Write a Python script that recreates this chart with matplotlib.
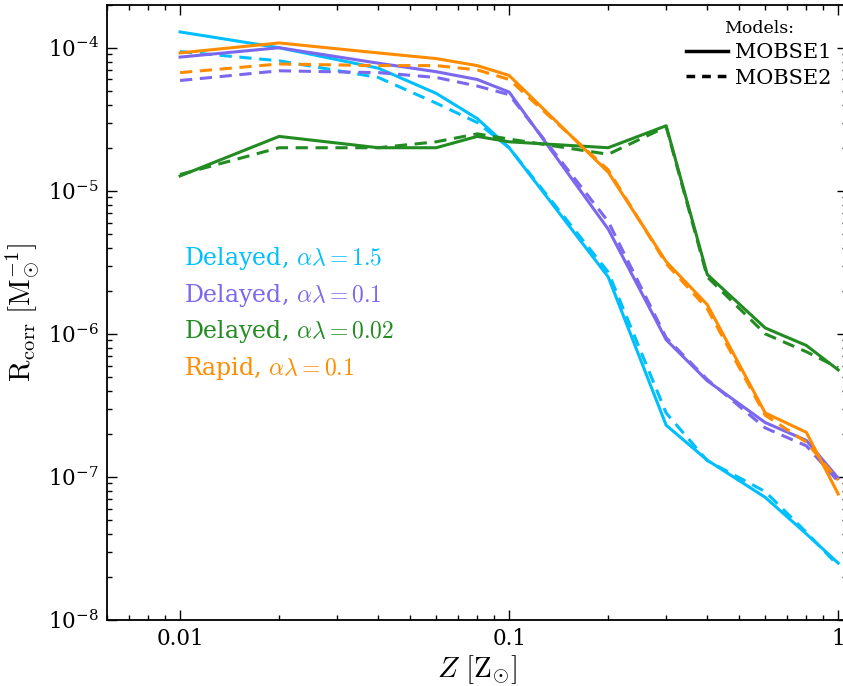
import matplotlib
matplotlib.use("Agg")
import matplotlib.pyplot as plt
from matplotlib.lines import Line2D
from matplotlib.ticker import FixedLocator, FixedFormatter, LogLocator, NullFormatter

plt.rcParams['font.family'] = ['DejaVu Serif']
plt.rcParams['mathtext.fontset'] = 'cm'

Z = [0.01, 0.02, 0.04, 0.06, 0.08, 0.1, 0.2, 0.3, 0.4, 0.6, 0.8, 1.0]

delayed15_m1 = [1.29e-4, 1.0e-4, 7.2e-5, 4.8e-5, 3.2e-5, 2.0e-5, 2.5e-6, 2.3e-7, 1.31e-7, 7.2e-8, 4.0e-8, 2.5e-8]
delayed15_m2 = [9.4e-5, 8.1e-5, 6.2e-5, 4.1e-5, 3.0e-5, 2.0e-5, 2.7e-6, 2.8e-7, 1.3e-7, 7.9e-8, 4.1e-8, 2.4e-8]
delayed01_m1 = [8.6e-5, 1.0e-4, 7.8e-5, 6.8e-5, 6.0e-5, 4.9e-5, 5.4e-6, 9.1e-7, 4.7e-7, 2.4e-7, 1.8e-7, 9.8e-8]
delayed01_m2 = [5.9e-5, 6.9e-5, 6.7e-5, 6.2e-5, 5.4e-5, 4.7e-5, 6.1e-6, 9.4e-7, 4.8e-7, 2.2e-7, 1.65e-7, 9.3e-8]
delayed002_m1 = [1.27e-5, 2.4e-5, 2.0e-5, 2.0e-5, 2.4e-5, 2.2e-5, 2.0e-5, 2.85e-5, 2.6e-6, 1.1e-6, 8.3e-7, 5.6e-7]
delayed002_m2 = [1.3e-5, 2.0e-5, 2.0e-5, 2.2e-5, 2.5e-5, 2.3e-5, 1.8e-5, 2.8e-5, 2.5e-6, 1.0e-6, 7.5e-7, 5.8e-7]
rapid01_m1 = [9.2e-5, 1.08e-4, 9.2e-5, 8.4e-5, 7.5e-5, 6.4e-5, 1.35e-5, 3.2e-6, 1.6e-6, 2.8e-7, 2.05e-7, 7.6e-8]
rapid01_m2 = [6.7e-5, 7.7e-5, 7.5e-5, 7.5e-5, 7.0e-5, 6.0e-5, 1.4e-5, 3.1e-6, 1.5e-6, 2.7e-7, 1.75e-7, 9.5e-8]

labels = [r'Delayed, $\alpha\lambda = 1.5$', r'Delayed, $\alpha\lambda = 0.1$',
          r'Delayed, $\alpha\lambda = 0.02$', r'Rapid, $\alpha\lambda = 0.1$']
colors = ['#00BFFF', '#7B68EE', '#228B22', '#FF8C00']
series_m1 = [delayed15_m1, delayed01_m1, delayed002_m1, rapid01_m1]
series_m2 = [delayed15_m2, delayed01_m2, delayed002_m2, rapid01_m2]

xticks = [0.01, 0.1, 1]
xticklabels = ['0.01', '0.1', '1']

fig = plt.figure(figsize=(8.43, 6.86), dpi=100)
ax = fig.add_axes([0.127, 0.0962, 0.878, 0.897])

for m1, m2, c in zip(series_m1, series_m2, colors):
    ax.plot(Z, m1, color=c, lw=2.2, ls='-')
    ax.plot(Z, m2, color=c, lw=2.2, ls=(0, (4, 2.5)))

ax.set_xscale('log')
ax.set_yscale('log')
ax.set_xlim(0.006, 1.065)
ax.set_ylim(1e-8, 2e-4)

ax.xaxis.set_major_locator(FixedLocator(xticks))
ax.xaxis.set_major_formatter(FixedFormatter(xticklabels))
ax.xaxis.set_minor_locator(LogLocator(base=10, subs=range(2, 10)))
ax.xaxis.set_minor_formatter(NullFormatter())
ax.yaxis.set_major_locator(LogLocator(base=10, numticks=10))
ax.yaxis.set_minor_locator(LogLocator(base=10, subs=range(2, 10), numticks=20))
ax.yaxis.set_minor_formatter(NullFormatter())

ax.tick_params(which='both', direction='in', top=True, right=True)
ax.tick_params(which='major', length=7, width=1.0, labelsize=15.5, pad=6)
ax.tick_params(which='minor', length=3.5, width=1.0)
for s in ax.spines.values():
    s.set_linewidth(1.3)

ax.set_xlabel(r'$Z\ [\mathrm{Z}_{\odot}]$', fontsize=21, labelpad=2)
ax.set_ylabel(r'$\mathrm{R_{corr}}\ [\mathrm{M}_{\odot}^{-1}]$', fontsize=21, labelpad=4)

ys = [258, 295, 331, 368]
for lab, c, yp in zip(labels, colors, ys):
    ax.text(184 / 843, 1 - yp / 686, lab, color=c, fontsize=17,
            transform=fig.transFigure, ha='left', va='center')

handles = [Line2D([0], [0], color='black', lw=2.5, ls='-'),
           Line2D([0], [0], color='black', lw=2.5, ls=(0, (2.5, 2)))]
leg = ax.legend(handles, ['MOBSE1', 'MOBSE2'], title='Models:', loc='upper right',
                bbox_to_anchor=(836 / 843, 1 - 16 / 686), bbox_transform=fig.transFigure,
                frameon=False, fontsize=15, title_fontsize=12.5,
                handlelength=2.0, handletextpad=0.35, labelspacing=0.3,
                borderaxespad=0, borderpad=0.2)

fig.savefig('out.png', dpi=100)
